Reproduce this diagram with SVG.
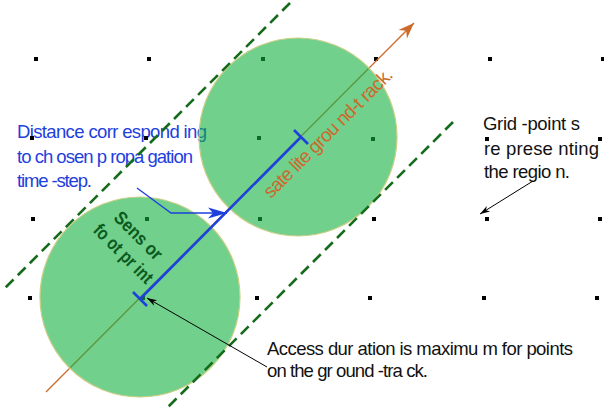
<svg xmlns="http://www.w3.org/2000/svg" width="604" height="413" viewBox="0 0 604 413">
<style>
.lbl{font-family:"Liberation Sans",Arial,sans-serif;font-size:18.5px}
.blue{fill:#1e40dc}
.blk{fill:#111}
.pt{fill:#000}
.fp{fill:#10b040;fill-opacity:0.6;stroke:#c9cf86;stroke-width:1.2}
.dash{fill:none;stroke:#156b1c;stroke-width:2.6;stroke-dasharray:11 6}
.track{stroke:#cc6a2c;stroke-width:1.3;fill:none}
.meas{stroke:#1e40dc;stroke-width:2.6;fill:none}
.sens{font-family:"Liberation Sans",Arial,sans-serif;font-size:18.5px;font-weight:bold;fill:#0b5a1e}
</style>
<defs>
<marker id="ahO" markerUnits="userSpaceOnUse" markerWidth="20" markerHeight="14" viewBox="-16 -7 18 14" refX="0" refY="0" orient="auto"><path d="M0,0 L-16,-6 L-11,0 L-16,6 z" fill="#cc6a2c"/></marker>
<marker id="ahB" markerUnits="userSpaceOnUse" markerWidth="22" markerHeight="14" viewBox="-20 -7 22 14" refX="0" refY="0" orient="auto"><path d="M0,0 L-19,-5.5 L-14,0 L-19,5.5 z" fill="#1e40dc"/></marker>
<marker id="ahK" markerUnits="userSpaceOnUse" markerWidth="12" markerHeight="8" viewBox="-11 -4 12 8" refX="0" refY="0" orient="auto"><path d="M0,0 L-10,-3.2 L-7,0 L-10,3.2 z" fill="#000"/></marker>
</defs>

<g id="label-distance">
<text class="lbl blue" x="17" y="138" textLength="190">Distance corr espond ing</text>
<text class="lbl blue" x="17" y="163" textLength="176">to ch osen p ropa gation</text>
<text class="lbl blue" x="17" y="187" textLength="75">time -step.</text>
</g>
<g id="label-grid">
<text class="lbl blk" x="483" y="130" textLength="97">Grid -point s</text>
<text class="lbl blk" x="484" y="155" textLength="115">re prese nting</text>
<text class="lbl blk" x="484" y="178" textLength="86">the regio n.</text>
</g>
<g id="label-access">
<text class="lbl blk" x="267" y="355" textLength="306">Access dur ation is maximu m for points</text>
<text class="lbl blk" x="267" y="377" textLength="161">on the gr ound -tra ck.</text>
</g>

<g id="grid-points">
<rect class="pt" x="34" y="57" width="4" height="4"/>
<rect class="pt" x="147" y="57" width="4" height="4"/>
<rect class="pt" x="261" y="57" width="4" height="4"/>
<rect class="pt" x="374" y="57" width="4" height="4"/>
<rect class="pt" x="488" y="57" width="4" height="4"/>
<rect class="pt" x="601" y="57" width="4" height="4"/>
<rect class="pt" x="30" y="136" width="4" height="4"/>
<rect class="pt" x="144" y="136" width="4" height="4"/>
<rect class="pt" x="257" y="136" width="4" height="4"/>
<rect class="pt" x="371" y="137" width="4" height="4"/>
<rect class="pt" x="485" y="137" width="4" height="4"/>
<rect class="pt" x="598" y="137" width="4" height="4"/>
<rect class="pt" x="31" y="217" width="4" height="4"/>
<rect class="pt" x="145" y="217" width="4" height="4"/>
<rect class="pt" x="258" y="217" width="4" height="4"/>
<rect class="pt" x="372" y="217" width="4" height="4"/>
<rect class="pt" x="485" y="217" width="4" height="4"/>
<rect class="pt" x="598" y="217" width="4" height="4"/>
<rect class="pt" x="28" y="296" width="4" height="4"/>
<rect class="pt" x="141" y="296" width="4" height="4"/>
<rect class="pt" x="255" y="296" width="4" height="4"/>
<rect class="pt" x="368" y="296" width="4" height="4"/>
<rect class="pt" x="482" y="296" width="4" height="4"/>
<rect class="pt" x="595" y="296" width="4" height="4"/>
</g>

<g id="connectors">
<line id="ground-track" class="track" x1="46" y1="392" x2="414" y2="23" marker-end="url(#ahO)"/>
</g>

<g id="footprint-lower"><circle class="fp" cx="140" cy="297" r="100"/></g>
<g id="footprint-upper"><circle class="fp" cx="298" cy="137" r="99"/></g>

<g id="swath-edges">
<line class="dash" x1="290" y1="3" x2="4" y2="289"/>
<line class="dash" x1="453" y1="122" x2="166" y2="409"/>
</g>

<g id="step-distance">
<line class="meas" x1="140" y1="299" x2="301" y2="137"/>
<line class="meas" x1="133" y1="292" x2="147" y2="306"/>
<line class="meas" x1="294" y1="130" x2="308" y2="144"/>
</g>

<g id="callouts">
<polyline points="137,188 171,213 227,213" fill="none" stroke="#1e40dc" stroke-width="1.3" marker-end="url(#ahB)"/>
<line x1="267" y1="367" x2="147" y2="298" stroke="#000" stroke-width="1" marker-end="url(#ahK)"/>
<line x1="533" y1="181" x2="480" y2="214" stroke="#000" stroke-width="1" marker-end="url(#ahK)"/>
</g>

<g id="label-track">
<text transform="translate(271,199) rotate(-45)" font-family="Liberation Sans, Arial, sans-serif" font-size="19" fill="#cc6a2c" textLength="174">sate lite grou nd-t rack.</text>
</g>
<g id="label-sensor">
<text class="sens" transform="translate(134,240) rotate(45)" text-anchor="middle" textLength="60" lengthAdjust="spacingAndGlyphs">Sens or</text>
<text class="sens" transform="translate(119,258) rotate(45)" text-anchor="middle" textLength="76" lengthAdjust="spacingAndGlyphs">fo ot pr int</text>
</g>
</svg>
